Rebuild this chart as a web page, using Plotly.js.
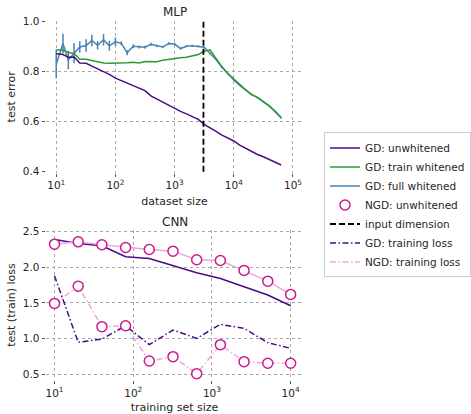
<!DOCTYPE html>
<html>
<head>
<meta charset="utf-8">
<script src="https://cdn.plot.ly/plotly-3.0.1.min.js"></script>
<style>html,body{margin:0;padding:0;background:#fff;}#chart{width:471px;height:414px;}</style>
</head>
<body>
<div id="chart"></div>
<script>
// ---------- MLP (top) ----------
const mlpSizes = [10, 13, 16, 20, 25, 32, 40, 50, 63, 79, 100, 126, 158, 200, 251, 316, 398, 501, 631, 794,
  1000, 1259, 1585, 1995, 2512, 3162, 3981, 5012, 6310, 7943, 10000, 12589, 15849, 19953, 25119, 31623, 39811, 50119, 63096];
const gdUnwhitened = [0.871, 0.868, 0.857, 0.858, 0.834, 0.833, 0.822, 0.812, 0.801, 0.789, 0.774, 0.764, 0.756, 0.747, 0.734, 0.724, 0.703, 0.690, 0.680, 0.667,
  0.654, 0.641, 0.631, 0.620, 0.609, 0.589, 0.576, 0.561, 0.546, 0.535, 0.523, 0.506, 0.493, 0.482, 0.469, 0.460, 0.449, 0.436, 0.427];
const gdTrainWhitened = [0.887, 0.885, 0.876, 0.872, 0.849, 0.849, 0.844, 0.838, 0.834, 0.833, 0.833, 0.833, 0.835, 0.837, 0.834, 0.840, 0.839, 0.839, 0.845, 0.849,
  0.851, 0.855, 0.857, 0.861, 0.868, 0.881, 0.887, 0.852, 0.819, 0.792, 0.769, 0.746, 0.727, 0.709, 0.697, 0.680, 0.663, 0.641, 0.617];
const gdFullWhitened = [0.830, 0.912, 0.846, 0.873, 0.898, 0.904, 0.924, 0.905, 0.927, 0.903, 0.919, 0.913, 0.875, 0.901, 0.898, 0.897, 0.909, 0.902, 0.898, 0.912,
  0.910, 0.892, 0.901, 0.903, 0.901, 0.897, 0.872, 0.848, 0.817, 0.790, 0.767, 0.745, 0.726, 0.708, 0.696, 0.679, 0.662, 0.640, 0.615];
const gdFullWhitenedErr = [0.057, 0.039, 0.037, 0.040, 0.023, 0.025, 0.023, 0.017, 0.023, 0.020, 0.017, 0.008, 0.010, 0.008, 0.006, 0.006, 0.006, 0.005, 0.005, 0.005,
  0.005, 0.004, 0.004, 0.004, 0.004, 0.004, 0.004, 0.003, 0.003, 0.003, 0.003, 0.003, 0.003, 0.003, 0.003, 0.003, 0.003, 0.003, 0.003];
const inputDimension = 3072;
const mlpErrorRange = [0.4, 1.0];

// ---------- CNN (bottom) ----------
const cnnSizes = [10, 20, 40, 80, 160, 320, 640, 1280, 2560, 5120, 10000];
const cnnGdTest = [2.388, 2.332, 2.300, 2.146, 2.122, 2.020, 1.922, 1.843, 1.726, 1.610, 1.460];
const cnnNgdTest = [2.323, 2.355, 2.314, 2.276, 2.248, 2.225, 2.104, 2.094, 1.955, 1.805, 1.619];
const cnnGdTrain = [1.880, 0.948, 0.994, 1.180, 0.915, 1.120, 1.003, 1.200, 1.143, 0.943, 0.864];
const cnnNgdTrain = [1.493, 1.735, 1.167, 1.180, 0.686, 0.747, 0.509, 0.915, 0.677, 0.654, 0.654];

// ---------- tick labels ----------
const mlpTickVals = [10, 100, 1000, 10000, 100000];
const mlpTickText = ['10<sup>1</sup>', '10<sup>2</sup>', '10<sup>3</sup>', '10<sup>4</sup>', '10<sup>5</sup>'];
const cnnTickVals = [10, 100, 1000, 10000];
const cnnTickText = ['10<sup>1</sup>', '10<sup>2</sup>', '10<sup>3</sup>', '10<sup>4</sup>'];

// ---------- styles ----------
const cIndigo = '#4b0b86';
const cGreen = '#2f9a2f';
const cBlue = '#4682b4';
const cPinkLine = '#f0a6d6';
const cMagenta = '#cc1a8e';
const FONT = 'DejaVu Sans, sans-serif';
const TXT = '#262626';
const dashDot = '6px,2.5px,1.5px,2.5px';

const traces = [
  {x: mlpSizes, y: gdFullWhitened, xaxis: 'x', yaxis: 'y', mode: 'lines', name: 'GD: full whitened', legendrank: 3,
   line: {color: cBlue, width: 1.5},
   error_y: {type: 'data', array: gdFullWhitenedErr, color: cBlue, thickness: 1.5, width: 0}},
  {x: mlpSizes, y: gdTrainWhitened, xaxis: 'x', yaxis: 'y', mode: 'lines', name: 'GD: train whitened', legendrank: 2,
   line: {color: cGreen, width: 1.5}},
  {x: mlpSizes, y: gdUnwhitened, xaxis: 'x', yaxis: 'y', mode: 'lines', name: 'GD: unwhitened', legendrank: 1,
   line: {color: cIndigo, width: 1.5}},
  {x: [inputDimension, inputDimension], y: mlpErrorRange, xaxis: 'x', yaxis: 'y', mode: 'lines', name: 'input dimension', legendrank: 5,
   line: {color: '#000', width: 1.8, dash: '6px,3px'}},

  {x: cnnSizes, y: cnnGdTest, xaxis: 'x2', yaxis: 'y2', mode: 'lines', showlegend: false,
   line: {color: cIndigo, width: 1.5}},
  {x: cnnSizes, y: cnnGdTrain, xaxis: 'x2', yaxis: 'y2', mode: 'lines', name: 'GD: training loss', legendrank: 6,
   line: {color: cIndigo, width: 1.5, dash: dashDot}},
  {x: cnnSizes, y: cnnNgdTest, xaxis: 'x2', yaxis: 'y2', mode: 'lines', showlegend: false,
   line: {color: cPinkLine, width: 1.5}},
  {x: cnnSizes, y: cnnNgdTrain, xaxis: 'x2', yaxis: 'y2', mode: 'lines', name: 'NGD: training loss', legendrank: 7,
   line: {color: cPinkLine, width: 1.5, dash: dashDot}},
  {x: cnnSizes, y: cnnNgdTest, xaxis: 'x2', yaxis: 'y2', mode: 'markers', name: 'NGD: unwhitened', legendrank: 4,
   marker: {symbol: 'circle', size: 10, color: '#fff', line: {color: cMagenta, width: 1.5}}},
  {x: cnnSizes, y: cnnNgdTrain, xaxis: 'x2', yaxis: 'y2', mode: 'markers', showlegend: false,
   marker: {symbol: 'circle', size: 10, color: '#fff', line: {color: cMagenta, width: 1.5}}}
];

const gridCommon = {
  showgrid: true, gridcolor: '#a8a8a8', griddash: 'dot', gridwidth: 1,
  zeroline: false, showline: false,
  ticks: 'outside', ticklen: 3, tickcolor: '#555', tickwidth: 1,
  tickfont: {family: FONT, size: 10.5, color: TXT}
};

const layout = {
  width: 471, height: 414,
  margin: {l: 0, r: 0, t: 0, b: 0},
  paper_bgcolor: '#fff', plot_bgcolor: '#fff',
  font: {family: FONT, color: TXT},
  showlegend: true,
  legend: {x: 0.694, y: 0.68, xanchor: 'left', yanchor: 'top',
    bordercolor: '#cccccc', borderwidth: 1, bgcolor: '#fff',
    font: {family: FONT, size: 10.5, color: TXT}, itemwidth: 30, traceorder: 'normal'},
  xaxis: Object.assign({}, gridCommon, {
    type: 'log', domain: [0.0977, 0.6497], range: [0.821, 5.176], anchor: 'y',
    tickvals: mlpTickVals, ticktext: mlpTickText,
    title: {text: 'dataset size', font: {family: FONT, size: 11, color: TXT}, standoff: 7}
  }),
  yaxis: Object.assign({}, gridCommon, {
    domain: [0.5833, 0.9493], range: [0.397, 1.002], anchor: 'x',
    dtick: 0.2, tick0: 0.4, tickformat: '.1f',
    title: {text: 'test error', font: {family: FONT, size: 11, color: TXT}, standoff: 4}
  }),
  xaxis2: Object.assign({}, gridCommon, {
    type: 'log', domain: [0.0977, 0.6497], range: [0.887, 4.162], anchor: 'y2',
    tickvals: cnnTickVals, ticktext: cnnTickText,
    title: {text: 'training set size', font: {family: FONT, size: 11, color: TXT}, standoff: 7}
  }),
  yaxis2: Object.assign({}, gridCommon, {
    domain: [0.0821, 0.4444], range: [0.42, 2.521], anchor: 'x2',
    dtick: 0.5, tick0: 0.5, tickformat: '.1f',
    title: {text: 'test (train) loss', font: {family: FONT, size: 11, color: TXT}, standoff: 4}
  }),
  annotations: [
    {text: 'MLP', xref: 'paper', yref: 'paper', x: 0.3737, y: 0.971, xanchor: 'center', yanchor: 'middle',
     showarrow: false, font: {family: FONT, size: 12, color: TXT}},
    {text: 'CNN', xref: 'paper', yref: 'paper', x: 0.3737, y: 0.4638, xanchor: 'center', yanchor: 'middle',
     showarrow: false, font: {family: FONT, size: 12, color: TXT}}
  ]
};

Plotly.newPlot('chart', traces, layout, {staticPlot: true, displayModeBar: false});
</script>
</body>
</html>
